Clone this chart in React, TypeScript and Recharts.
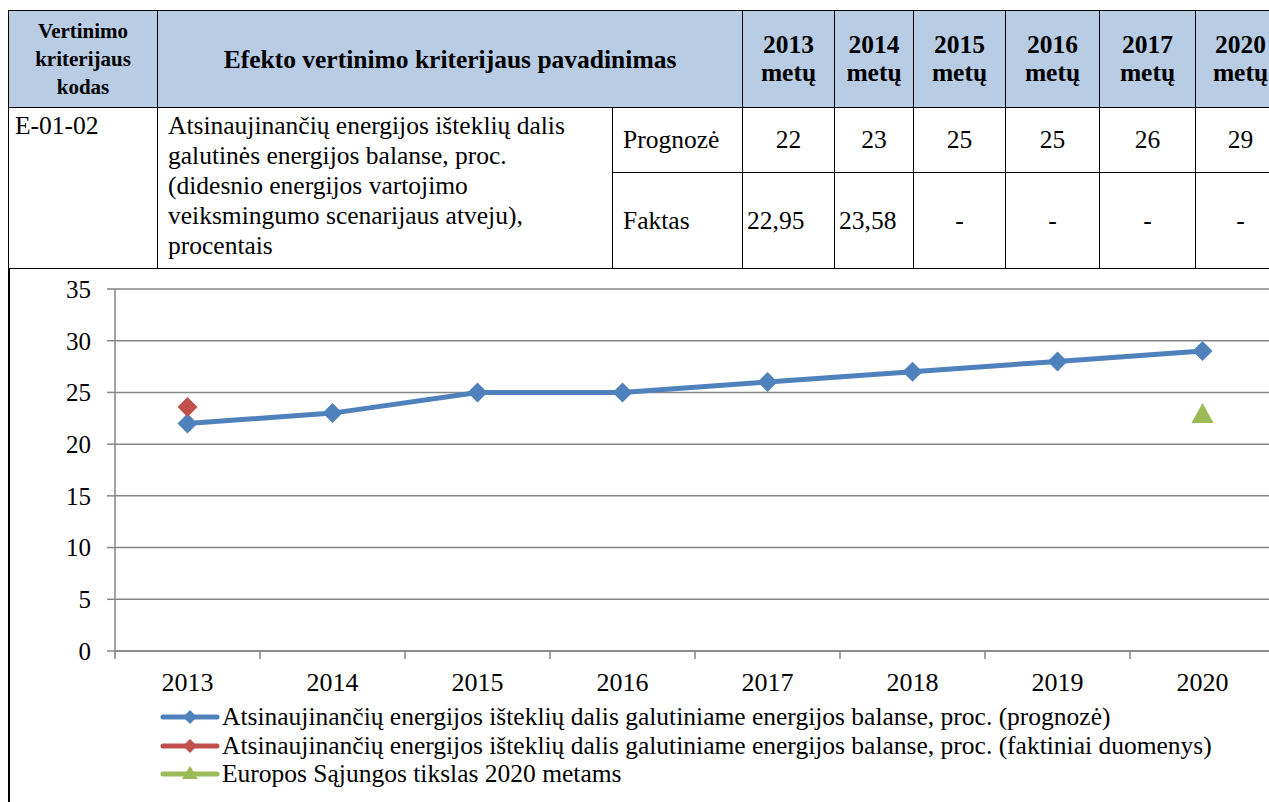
import { LineChart, Line, XAxis, YAxis, CartesianGrid, Legend } from 'recharts'

// chart data
const years = ['2013', '2014', '2015', '2016', '2017', '2018', '2019', '2020']
const prognoze = [22, 23, 25, 25, 26, 27, 28, 29]
const faktiniai = [23.58, null, null, null, null, null, null, null]
const esTikslas = [null, null, null, null, null, null, null, 23]
const yTicks = [0, 5, 10, 15, 20, 25, 30, 35]

// table data
const tableYears = ['2013', '2014', '2015', '2016', '2017', '2020']
const tablePrognoze = ['22', '23', '25', '25', '26', '29']
const tableFaktas = ['22,95', '23,58', '-', '-', '-', '-']

const seriesNames = [
  'Atsinaujinančių energijos išteklių dalis galutiniame energijos balanse, proc. (prognozė)',
  'Atsinaujinančių energijos išteklių dalis galutiniame energijos balanse, proc. (faktiniai duomenys)',
  'Europos Sąjungos tikslas 2020 metams',
]

const BLUE = '#4F81BD'
const RED = '#C0504D'
const GREEN = '#9BBB59'
const GRID = '#868686'
const FONT = '"Liberation Serif", "Times New Roman", "DejaVu Serif", serif'

const data = years.map((y, i) => ({
  x: i + 0.5,
  year: y,
  prognoze: prognoze[i],
  faktiniai: faktiniai[i],
  es: esTikslas[i],
}))
const boundaryTicks = years.map((_, i) => i).concat(years.length)
const centerTicks = years.map((_, i) => i + 0.5)

function diamond(color: string, r: number) {
  return (props: any) => {
    const { cx, cy, index } = props
    if (cx == null || cy == null || props.value == null) return <g key={index} />
    return (
      <path key={index} d={`M${cx},${cy - r}L${cx + r},${cy}L${cx},${cy + r}L${cx - r},${cy}Z`} fill={color} />
    )
  }
}

function triangle(color: string, r: number) {
  return (props: any) => {
    const { cx, cy, index } = props
    if (cx == null || cy == null || props.value == null) return <g key={index} />
    return (
      <path key={index} d={`M${cx},${cy - r}L${cx + r + 1},${cy + r}L${cx - r - 1},${cy + r}Z`} fill={color} />
    )
  }
}

function LegendIcon({ color, shape }: { color: string; shape: 'diamond' | 'triangle' }) {
  return (
    <svg width={60} height={22} style={{ display: 'block' }}>
      <line x1={3} y1={11} x2={57} y2={11} stroke={color} strokeWidth={5} strokeLinecap="round" />
      {shape === 'diamond'
        ? <path d="M30,4L37,11L30,18L23,11Z" fill={color} />
        : <path d="M30,3L38,16L22,16Z" fill={color} />}
    </svg>
  )
}

function ChartLegend() {
  const items = [
    { name: seriesNames[0], color: BLUE, shape: 'diamond' as const },
    { name: seriesNames[1], color: RED, shape: 'diamond' as const },
    { name: seriesNames[2], color: GREEN, shape: 'triangle' as const },
  ]
  return (
    <div style={{ fontFamily: FONT, fontSize: 25.5, color: '#000', paddingLeft: 150 }}>
      {items.map(it => (
        <div key={it.name} style={{ display: 'flex', alignItems: 'center', height: 28.5, whiteSpace: 'nowrap' }}>
          <LegendIcon color={it.color} shape={it.shape} />
          <span style={{ marginLeft: 2 }}>{it.name}</span>
        </div>
      ))}
    </div>
  )
}

const cell = { border: '1px solid #000', padding: '0 8px', fontFamily: FONT, color: '#000' }
const headCell = { ...cell, background: '#B8CCE4', fontWeight: 700, textAlign: 'center' as const }

export default function App() {
  return (
    <div style={{ position: 'fixed', left: 0, top: 0, width: 1269, height: 802, overflow: 'hidden', background: '#fff', fontFamily: FONT }}>
      <div style={{ position: 'absolute', left: 8, top: 10 }}>
        <table style={{ borderCollapse: 'collapse', tableLayout: 'fixed', width: 1277 }}>
          <colgroup>
            {[149, 455, 130, 92, 79, 92, 94, 96, 90].map((w, i) => <col key={i} style={{ width: w }} />)}
          </colgroup>
          <thead>
            <tr style={{ height: 97 }}>
              <th style={{ ...headCell, fontSize: 21, lineHeight: '28px', padding: 0 }}>
                Vertinimo<br />kriterijaus<br />kodas
              </th>
              <th colSpan={2} style={{ ...headCell, fontSize: 25.5, lineHeight: '29px' }}>
                Efekto vertinimo kriterijaus pavadinimas
              </th>
              {tableYears.map(y => (
                <th key={y} style={{ ...headCell, fontSize: 25.5, lineHeight: '28px', padding: 0 }}>
                  {y}<br />metų
                </th>
              ))}
            </tr>
          </thead>
          <tbody style={{ fontSize: 25.5, lineHeight: '30px' }}>
            <tr style={{ height: 65 }}>
              <td rowSpan={2} style={{ ...cell, verticalAlign: 'top', padding: '3px 6px' }}>E-01-02</td>
              <td rowSpan={2} style={{ ...cell, verticalAlign: 'top', padding: '3px 10px' }}>
                Atsinaujinančių energijos išteklių dalis galutinės energijos balanse, proc. (didesnio energijos vartojimo veiksmingumo scenarijaus atveju), procentais
              </td>
              <td style={{ ...cell, padding: '0 10px' }}>Prognozė</td>
              {tablePrognoze.map((v, i) => (
                <td key={i} style={{ ...cell, textAlign: 'center', padding: 0 }}>{v}</td>
              ))}
            </tr>
            <tr style={{ height: 96 }}>
              <td style={{ ...cell, padding: '0 10px' }}>Faktas</td>
              {tableFaktas.map((v, i) => (
                <td key={i} style={{ ...cell, textAlign: i < 2 ? 'left' : 'center', padding: i < 2 ? '0 4px' : 0 }}>{v}</td>
              ))}
            </tr>
          </tbody>
        </table>
      </div>

      <div style={{ position: 'absolute', left: 8, top: 268, width: 1290, height: 540, borderLeft: '2px solid #000' }}>
        <LineChart
          width={1280}
          height={533}
          data={data}
          margin={{ top: 21, right: 15, left: 0, bottom: 12 }}
          style={{ fontFamily: FONT }}
        >
          <CartesianGrid horizontal vertical={false} stroke={GRID} strokeWidth={1.5} xAxisId="a_marks" />
          <XAxis
            xAxisId="a_marks"
            type="number"
            dataKey="x"
            domain={[0, years.length]}
            ticks={boundaryTicks}
            tick={{ fill: 'none', fontSize: 1 }}
            tickFormatter={() => ''}
            tickSize={8}
            tickMargin={0}
            tickLine={{ stroke: GRID, strokeWidth: 1.5 }}
            axisLine={{ stroke: GRID, strokeWidth: 1.5 }}
            height={8}
            interval={0}
          />
          <XAxis
            xAxisId="b_labels"
            type="number"
            dataKey="x"
            domain={[0, years.length]}
            ticks={centerTicks}
            tickFormatter={(v: number) => years[Math.floor(v)]}
            tick={{ fontSize: 26, fill: '#000', fontFamily: FONT }}
            tickLine={false}
            axisLine={false}
            tickSize={0}
            tickMargin={14}
            height={44}
            interval={0}
          />
          <YAxis
            domain={[0, 35]}
            ticks={yTicks}
            tick={{ fontSize: 25, fill: '#000', fontFamily: FONT }}
            tickSize={8}
            tickMargin={16}
            tickLine={{ stroke: GRID, strokeWidth: 1.5 }}
            axisLine={{ stroke: GRID, strokeWidth: 1.5 }}
            width={105}
            interval={0}
          />
          <Legend verticalAlign="bottom" align="left" height={86} content={() => <ChartLegend />} />
          <Line
            xAxisId="a_marks"
            dataKey="prognoze"
            name={seriesNames[0]}
            stroke={BLUE}
            strokeWidth={5}
            dot={diamond(BLUE, 10)}
            activeDot={false}
            isAnimationActive={false}
          />
          <Line
            xAxisId="a_marks"
            dataKey="faktiniai"
            name={seriesNames[1]}
            stroke={RED}
            strokeWidth={5}
            dot={diamond(RED, 10)}
            activeDot={false}
            isAnimationActive={false}
          />
          <Line
            xAxisId="a_marks"
            dataKey="es"
            name={seriesNames[2]}
            stroke={GREEN}
            strokeWidth={5}
            dot={triangle(GREEN, 10)}
            activeDot={false}
            isAnimationActive={false}
          />
        </LineChart>
      </div>
    </div>
  )
}
